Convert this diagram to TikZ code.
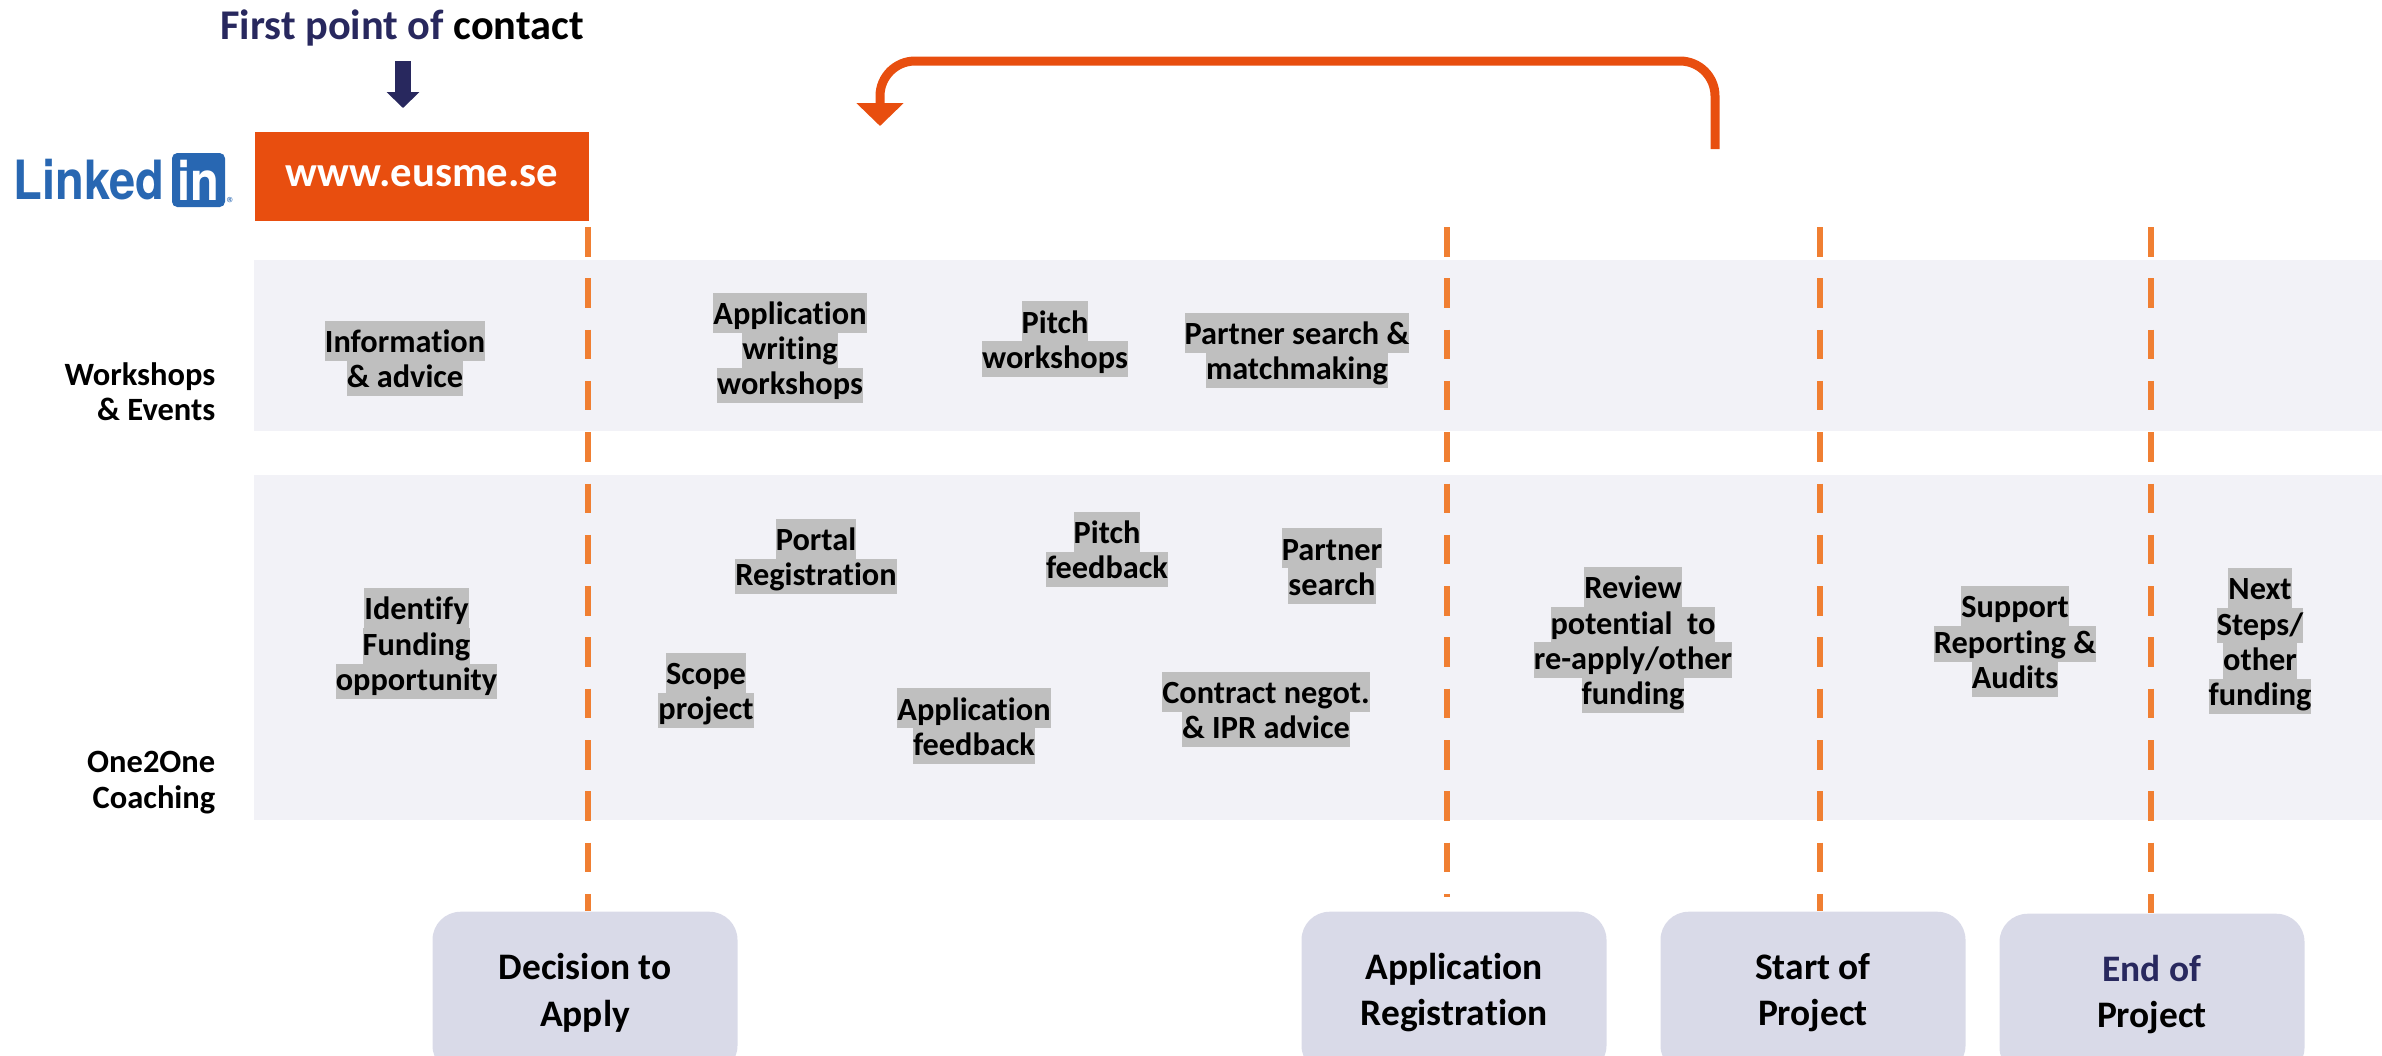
\documentclass[tikz,border=0pt]{standalone}
\usepackage{fontspec}
\setmainfont{Carlito}[Ligatures=NoCommon]
\newfontfamily\logofont{TeX Gyre Heros}
\usetikzlibrary{arrows.meta}

\definecolor{eusmeorange}{HTML}{E84E0F}
\definecolor{dashorange}{HTML}{F07F32}
\definecolor{bandgray}{HTML}{F2F2F7}
\definecolor{stagegray}{HTML}{D9DAE8}
\definecolor{hlgray}{HTML}{BFBFBF}
\definecolor{navy}{HTML}{28285E}
\definecolor{linkedblue}{HTML}{2867B2}

% gray text marker, the first line of a node is a bit taller
\newcommand{\hl}[1]{{\setlength{\fboxsep}{0pt}\colorbox{hlgray}{\rule[-2.4pt]{0pt}{10pt}#1}}}
\newcommand{\hltop}[1]{{\setlength{\fboxsep}{0pt}\colorbox{hlgray}{\rule[-2.4pt]{0pt}{11.4pt}#1}}}

\begin{document}
\begin{tikzpicture}[y=-1cm]
      \tikzstyle{every node} = [align=center,inner sep=0pt]
      \tikzstyle{activity} = [font=\fontsize{9.2}{10}\selectfont\bfseries]
      \tikzstyle{rowlabel} = [font=\fontsize{9.25}{10}\selectfont\bfseries,align=right,anchor=east]
      \tikzstyle{stage} = [draw=none,fill=stagegray,rounded corners=8pt,minimum width=3.05cm,minimum height=1.62cm,anchor=north,font=\fontsize{10.65}{13.2}\selectfont\bfseries]
      \tikzstyle{band} = [fill=bandgray]
      \tikzstyle{milestone} = [dashorange,line width=.06cm,dash pattern=on .295cm off .218cm]

      \path[use as bounding box,clip] (0,0) rectangle (23.82,10.55);

      % rows
      \fill[band] (2.54,2.60) rectangle (23.82,4.31);
      \fill[band] (2.54,4.75) rectangle (23.82,8.20);

      % top
      \node (title) at (4.02,.28) {\fontsize{12.05}{14}\selectfont\bfseries\textcolor{navy}{First point of} contact};
      \node[fill=eusmeorange,text=white,minimum width=3.34cm,minimum height=.89cm,font=\fontsize{12.15}{14}\selectfont\bfseries] (web) at (4.22,1.765) {\raisebox{-1.4pt}{www.eusme.se}};
      \coordinate (titledown) at (4.03,.61);
      \coordinate (webup) at (4.03,1.08);
      \draw[navy,line width=.16cm,-{Triangle[width=.32cm,length=.16cm]}] (titledown) -- (webup);

      % linkedin logo
      \node[text=linkedblue,font=\logofont\fontsize{15.4}{16}\selectfont\bfseries,xscale=.87,transform shape,anchor=base west] (linked) at (.13,1.99) {Linked};
      \node[fill=linkedblue,text=white,rounded corners=1.5pt,minimum width=.53cm,minimum height=.54cm,font=\logofont\fontsize{15.4}{16}\selectfont\bfseries] (linkedin) at (1.985,1.80) {\scalebox{.87}[1]{in}};
      \node[text=linkedblue,font=\fontsize{5}{5}\selectfont] (linkedreg) at (2.31,2.03) {\textregistered};

      % return arrow
      \coordinate (backstart) at (17.15,1.49);
      \coordinate (backright) at (17.15,.61);
      \coordinate (backleft) at (8.80,.61);
      \coordinate (backend) at (8.80,1.26);
      \draw[eusmeorange,line width=.09cm,rounded corners=.35cm,-{Triangle[width=.46cm,length=.23cm]}] (backstart) -- (backright) -- (backleft) -- (backend);

      % stages
      \node[stage] (decision) at (5.85,9.11) {Decision to\\Apply};
      \node[stage] (registration) at (14.54,9.11) {Application\\Registration};
      \node[stage] (start) at (18.13,9.11) {Start of\\Project};
      \node[stage] (finish) at (21.52,9.13) {\textcolor{navy}{End of}\\Project};

      % dashed lines
      \coordinate (decisiontop) at (5.88,2.27);
      \coordinate (registrationtop) at (14.47,2.27);
      \coordinate (registrationend) at (14.47,8.97);
      \coordinate (starttop) at (18.20,2.27);
      \coordinate (finishtop) at (21.51,2.27);
      \draw[milestone] (decisiontop) -- (decisiontop |- decision.north);
      \draw[milestone] (registrationtop) -- (registrationend);
      \draw[milestone] (starttop) -- (starttop |- start.north);
      \draw[milestone] (finishtop) -- (finishtop |- finish.north);

      % row labels
      \node[rowlabel] (workshops) at (2.16,3.915) {Workshops\\\& Events};
      \node[rowlabel] (coaching) at (2.16,7.825) {One2One\\Coaching};

      % workshops and events
      \node[activity] (info) at (4.05,3.585) {\hltop{Information}\\\hl{\& advice}};
      \node[activity] (writing) at (7.90,3.48) {\hltop{Application}\\\hl{writing}\\\hl{workshops}};
      \node[activity] (pitchws) at (10.55,3.39) {\hltop{Pitch}\\\hl{workshops}};
      \node[activity] (partnerws) at (12.97,3.505) {\hltop{Partner search \&}\\\hl{matchmaking}};

      % one2one coaching
      \node[activity] (identify) at (4.165,6.435) {\hltop{Identify}\\\hl{Funding}\\\hl{opportunity}};
      \node[activity] (portal) at (8.16,5.565) {\hltop{Portal}\\\hl{Registration}};
      \node[activity] (pitchfb) at (11.07,5.495) {\hltop{Pitch}\\\hl{feedback}};
      \node[activity] (partner) at (13.32,5.66) {\hltop{Partner}\\\hl{search}};
      \node[activity] (scope) at (7.06,6.905) {\hltop{Scope}\\\hl{project}};
      \node[activity] (appfb) at (9.74,7.26) {\hltop{Application}\\\hl{feedback}};
      \node[activity] (contract) at (12.66,7.095) {\hltop{Contract negot.}\\\hl{\& IPR advice}};
      \node[activity] (review) at (16.33,6.40) {\hltop{Review}\\\hl{potential\ \ to}\\\hl{re-apply/other}\\\hl{funding}};
      \node[activity] (support) at (20.15,6.415) {\hltop{Support}\\\hl{Reporting \&}\\\hl{Audits}};
      \node[activity] (next) at (22.60,6.41) {\hltop{Next}\\\hl{Steps/}\\\hl{other}\\\hl{funding}};
\end{tikzpicture}
\end{document}
